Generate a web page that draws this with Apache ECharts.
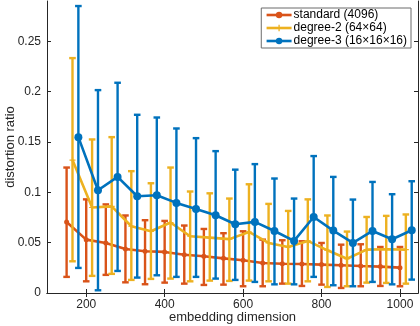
<!DOCTYPE html>
<html>
<head>
<meta charset="utf-8">
<script src="https://cdn.jsdelivr.net/npm/echarts@6/dist/echarts.min.js"></script>
<style>
html,body{margin:0;padding:0;background:#fff;}
#chart{width:420px;height:326px;}
</style>
</head>
<body>
<div id="chart"></div>
<script>
// x positions (each family shifted a bit so the bars do not overlap)
var xStd=[150,200,250,300,350,400,450,500,550,600,650,700,750,800,850,900,950,1000];
var xDeg2=[165,215,265,315,365,415,465,515,565,615,665,715,765,815,865,915,965,1015];
var xDeg3=[180,230,280,330,380,430,480,530,580,630,680,730,780,830,880,930,980,1030];
// means
var meanStd=[0.0706,0.053,0.0497,0.0437,0.0414,0.0408,0.038,0.0365,0.0344,0.0325,0.0298,0.029,0.0288,0.0282,0.0275,0.0268,0.0262,0.0252];
var meanDeg2=[0.132,0.0849,0.086,0.0663,0.0613,0.070,0.0564,0.055,0.0535,0.0606,0.0497,0.0457,0.0517,0.0424,0.034,0.0431,0.0434,0.0431];
var meanDeg3=[0.1548,0.102,0.1153,0.0961,0.0971,0.0895,0.0835,0.0772,0.0683,0.0706,0.0616,0.0517,0.0755,0.062,0.0497,0.0616,0.0534,0.0623];
// error bar ends
var lowStd=[0.016,0.0116,0.018,0.0106,0.0087,0.0103,0.0093,0.008,0.0083,0.0067,0.0067,0.0093,0.007,0.0083,0.005,0.0067,0.007,0.0067];
var highStd=[0.1246,0.093,0.088,0.077,0.0723,0.0716,0.067,0.0636,0.0594,0.0613,0.053,0.0524,0.0514,0.0497,0.048,0.0484,0.0457,0.0457];
var lowDeg2=[0.0315,0.017,0.019,0.013,0.014,0.0143,0.0116,0.0123,0.012,0.0123,0.0116,0.0093,0.0116,0.006,0.0067,0.0103,0.01,0.0093];
var highDeg2=[0.2333,0.1525,0.1548,0.121,0.109,0.1246,0.1008,0.099,0.0938,0.108,0.0885,0.0815,0.093,0.077,0.061,0.0755,0.0766,0.078];
var lowDeg3=[0.0249,0.0027,0.0219,0.0153,0.0176,0.016,0.016,0.0143,0.013,0.011,0.0086,0.0086,0.016,0.0077,0.0067,0.011,0.0086,0.0133];
var highDeg3=[0.285,0.2015,0.2088,0.177,0.1743,0.1634,0.1538,0.1409,0.1225,0.128,0.1137,0.0938,0.136,0.1153,0.0928,0.1103,0.0981,0.111];
// ticks
var xTicks=[200,400,600,800,1000];
var yTicks=[0,0.05,0.1,0.15,0.2,0.25];
var names=['standard (4096)','degree-2 (64\u00d764)','degree-3 (16\u00d716\u00d716)'];

var cRed='#D95319',cYel='#EDB120',cBlue='#0072BD';
var axisCol='#262626';
var font='"Liberation Sans", Arial, sans-serif';
var plusPath='path://M4,0h2v4h4v2h-4v4h-2v-4h-4v-2h4z';

function pairs(xs,ys){
    var out=[];
    for(var i=0;i<xs.length;i++){out.push([xs[i],ys[i]]);}
    return out;
}
function barData(xs,lo,hi){
    var out=[];
    for(var i=0;i<xs.length;i++){out.push([xs[i],lo[i],hi[i]]);}
    return out;
}
function errSeries(xs,lo,hi,color,z){
    return {
        type:'custom',
        z:z,
        silent:true,
        encode:{x:0,y:[1,2]},
        data:barData(xs,lo,hi),
        renderItem:function(params,api){
            var p1=api.coord([api.value(0),api.value(1)]);
            var p2=api.coord([api.value(0),api.value(2)]);
            var w=3.3;
            var st={stroke:color,lineWidth:2.4};
            return {type:'group',children:[
                {type:'line',shape:{x1:p1[0],y1:p1[1],x2:p2[0],y2:p2[1]},style:st},
                {type:'line',shape:{x1:p1[0]-w,y1:p1[1],x2:p1[0]+w,y2:p1[1]},style:st},
                {type:'line',shape:{x1:p2[0]-w,y1:p2[1],x2:p2[0]+w,y2:p2[1]},style:st}
            ]};
        }
    };
}
function lineSeries(name,xs,ys,color,symbol,size,z){
    return {
        name:name,type:'line',z:z,
        data:pairs(xs,ys),
        symbol:symbol,symbolSize:size,showAllSymbol:true,
        itemStyle:{color:color},
        lineStyle:{color:color,width:2.6},
        animation:false
    };
}
function plainNum(v){ return String(v); }

var chart=echarts.init(document.getElementById('chart'),null,{renderer:'canvas'});
var xMin=100,xMax=1046,yMin=0,yMax=0.29;
chart.setOption({
    animation:false,
    backgroundColor:'#fff',
    textStyle:{fontFamily:font},
    grid:{left:47,right:2,top:1,bottom:33,containLabel:false,outerBoundsMode:'none'},
    legend:{
        data:names,
        orient:'vertical',
        right:9,top:8,
        backgroundColor:'#fff',
        borderColor:'#6b6b6b',borderWidth:1,borderRadius:0,
        padding:[1,4,1,4],
        itemGap:1,itemWidth:25,itemHeight:8,
        lineStyle:{width:2.6},
        textStyle:{fontFamily:font,fontSize:12,color:'#000',padding:[0,0,0,-3]}
    },
    xAxis:[{
        type:'value',min:xMin,max:xMax,
        name:'embedding dimension',nameLocation:'middle',nameGap:18,nameMoveOverlap:false,
        nameTextStyle:{fontSize:13,color:axisCol},
        axisLine:{show:true,lineStyle:{color:axisCol,width:1}},
        axisTick:{show:true,inside:true,length:4,customValues:xTicks,lineStyle:{color:axisCol}},
        axisLabel:{fontSize:12,color:axisCol,margin:6,customValues:xTicks,formatter:plainNum},
        splitLine:{show:false}
    },{
        type:'value',min:xMin,max:xMax,position:'top',
        axisLine:{show:true,lineStyle:{color:axisCol,width:1}},
        axisTick:{show:true,inside:true,length:4,customValues:xTicks,lineStyle:{color:axisCol}},
        axisLabel:{show:false},
        splitLine:{show:false}
    }],
    yAxis:[{
        type:'value',min:yMin,max:yMax,
        name:'distortion ratio',nameLocation:'middle',nameGap:30,nameMoveOverlap:false,
        nameTextStyle:{fontSize:13,color:axisCol},
        axisLine:{show:true,lineStyle:{color:axisCol,width:1}},
        axisTick:{show:true,inside:true,length:4,customValues:yTicks,lineStyle:{color:axisCol}},
        axisLabel:{fontSize:12,color:axisCol,margin:6,customValues:yTicks,formatter:plainNum},
        splitLine:{show:false}
    },{
        type:'value',min:yMin,max:yMax,position:'right',
        axisLine:{show:true,lineStyle:{color:axisCol,width:1}},
        axisTick:{show:true,inside:true,length:4,customValues:yTicks,lineStyle:{color:axisCol}},
        axisLabel:{show:false},
        splitLine:{show:false}
    }],
    series:[
        errSeries(xStd,lowStd,highStd,cRed,2),
        lineSeries(names[0],xStd,meanStd,cRed,'circle',5,3),
        errSeries(xDeg2,lowDeg2,highDeg2,cYel,4),
        lineSeries(names[1],xDeg2,meanDeg2,cYel,plusPath,6,5),
        errSeries(xDeg3,lowDeg3,highDeg3,cBlue,6),
        lineSeries(names[2],xDeg3,meanDeg3,cBlue,'circle',8,7)
    ]
});
</script>
</body>
</html>
